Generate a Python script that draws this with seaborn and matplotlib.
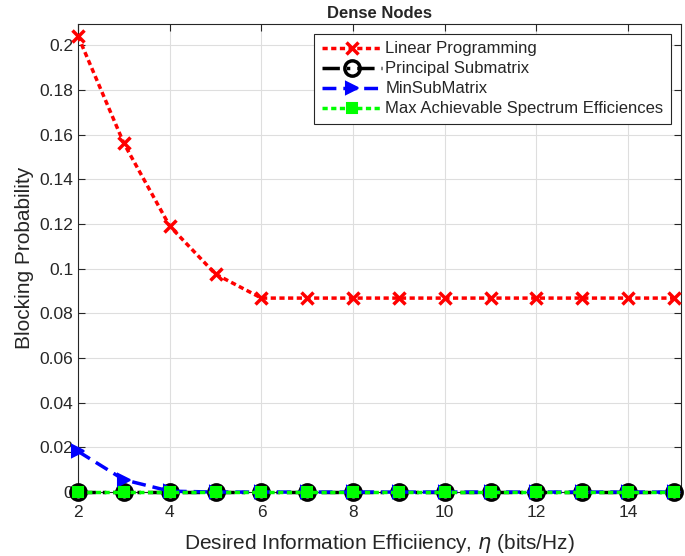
import numpy as np
import pandas as pd
import seaborn as sns
import matplotlib.pyplot as plt

# Data
eta = [2, 3, 4, 5, 6, 7, 8, 9, 10, 11, 12, 13, 14, 15]
linear_prog = [0.204, 0.156, 0.119, 0.0975, 0.0868, 0.0868, 0.0868, 0.0868,
               0.0868, 0.0868, 0.0868, 0.0868, 0.0868, 0.0868]
principal_sub = [0.0] * 14
min_sub = [0.0182, 0.0055, 0.0004, 0.0, 0.0, 0.0, 0.0, 0.0, 0.0, 0.0, 0.0, 0.0, 0.0, 0.0]
max_spectrum = [0.0] * 14

series = {
    "Linear Programming": linear_prog,
    "Principal Submatrix": principal_sub,
    "MinSubMatrix": min_sub,
    "Max Achievable Spectrum Efficiences": max_spectrum,
}
df = pd.DataFrame([(n, x, y) for n, ys in series.items() for x, y in zip(eta, ys)],
                  columns=["method", "eta", "pb"])

sns.set_style("whitegrid")
plt.rcParams['font.family'] = ['Liberation Sans', 'DejaVu Sans']

fig = plt.figure(figsize=(6.85, 5.56), dpi=100)
ax = fig.add_axes([0.114, 0.115, 0.88, 0.842])

styles = {
    "Linear Programming": dict(color="red", ls=(0, (1.5, 1)), marker="x", ms=9, mew=2.5, mfc="red"),
    "Principal Submatrix": dict(color="black", ls=(0, (5, 2, 1, 2)), marker="o", ms=11, mew=2.5, mfc="none"),
    "MinSubMatrix": dict(color="blue", ls=(0, (4, 2)), marker=">", ms=9, mew=1.5, mfc="blue"),
    "Max Achievable Spectrum Efficiences": dict(color="#00ff00", ls=(0, (1.5, 1)), marker="s", ms=7, mew=1.5, mfc="#00ff00"),
}
for name, st in styles.items():
    sub = df[df["method"] == name]
    sns.lineplot(data=sub, x="eta", y="pb", ax=ax, label=name, lw=2.5,
                 color=st["color"], linestyle=st["ls"], marker=st["marker"],
                 markersize=st["ms"], markeredgewidth=st["mew"],
                 markerfacecolor=st["mfc"], markeredgecolor=st["color"],
                 clip_on=False, zorder=3)

ax.set_xlim(2, 15.15)
ax.set_ylim(0, 0.2095)
ax.set_xticks(range(2, 15, 2))
ax.set_yticks(np.arange(0, 0.201, 0.02))
ax.set_yticklabels(["0", "0.02", "0.04", "0.06", "0.08", "0.1", "0.12", "0.14",
                    "0.16", "0.18", "0.2"])
ax.tick_params(labelsize=12.5, direction="in", length=5, color="#262626",
               top=True, right=True, left=True, bottom=True, labelcolor="#262626")
ax.tick_params(axis="x", pad=9)
for s in ax.spines.values():
    s.set_color("#262626")
    s.set_linewidth(0.8)
ax.grid(True, color="#dedede", lw=0.8)
ax.set_xlabel(r"Desired Information Efficiiency, $\eta$ (bits/Hz)", fontsize=15,
              color="#262626", labelpad=9)
ax.set_ylabel("Blocking Probability", fontsize=15, color="#262626")
ax.set_title("Dense Nodes", fontsize=12, fontweight="bold", pad=4)

leg = ax.legend(loc="upper right", fontsize=12, frameon=True, fancybox=False,
                edgecolor="#262626", framealpha=1, handlelength=3.6,
                borderaxespad=0.6, handletextpad=0.2, labelspacing=0.3,
                borderpad=0.45)
leg.get_frame().set_linewidth(0.8)

fig.savefig("out.png", dpi=100)
